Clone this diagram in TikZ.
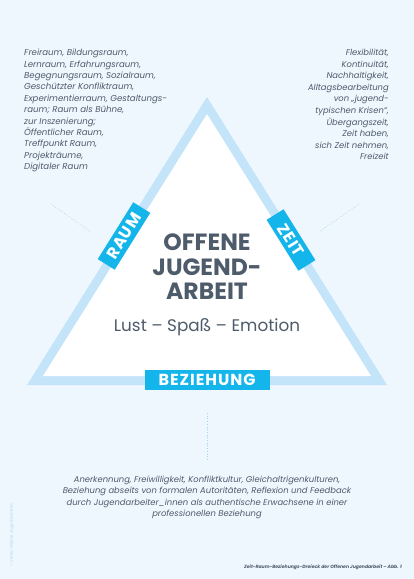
\documentclass[tikz,border=0pt]{standalone}
\usepackage{fontspec}
\setmainfont{Poppins}
\usepackage{xcolor}
\usepackage{tikz}
\usetikzlibrary{positioning}

\definecolor{bgblue}{HTML}{EEF6FE}
\definecolor{bandblue}{HTML}{C4E4F9}
\definecolor{tagblue}{HTML}{13B5EA}
\definecolor{inkgray}{HTML}{4D5B6A}
\definecolor{dotblue}{HTML}{9DD7F2}
\definecolor{markblue}{HTML}{A9DAF2}

\begin{document}
\begin{tikzpicture}[x=1pt,y=-1pt,every node/.style={text=inkgray}]
  \tikzstyle{tag}=[fill=tagblue,text=white,font=\bfseries\fontsize{16}{16}\selectfont\addfontfeatures{LetterSpace=6},minimum height=20pt,inner sep=0pt]
  \tikzstyle{list}=[font=\itshape\fontsize{8.6}{11.4}\selectfont,inner sep=0pt]
  \tikzstyle{pointer}=[dotblue,dotted,line width=0.7pt]

  \fill[bgblue] (0,0) rectangle (414,579);
  \useasboundingbox (0,0) rectangle (414,579);

  \coordinate (outerL) at (27,385);
  \coordinate (outerR) at (387,385);
  \coordinate (outerT) at (207,97);
  \coordinate (innerL) at (43,376);
  \coordinate (innerR) at (371,376);
  \coordinate (innerT) at (207,114);
  \fill[bandblue] (outerL) -- (outerR) -- (outerT) -- cycle;
  \fill[white] (innerL) -- (innerR) -- (innerT) -- cycle;

  \node[tag,rotate=58,minimum width=67pt] (raum) at (124,236) {RAUM};
  \node[tag,rotate=-58,minimum width=60pt] (zeit) at (291,240) {ZEIT};
  \node[tag,minimum width=125pt] (beziehung) at (207,380) {BEZIEHUNG};

  \node[font=\bfseries\fontsize{23.5}{24.5}\selectfont,align=center] (title) at (207,267) {OFFENE\\JUGEND-\\ARBEIT};
  \node[font=\fontsize{16.8}{16.8}\selectfont] (motto) at (207,327) {Lust – Spaß – Emotion};

  \node[list,align=left,anchor=north west] (raumtext) at (24,49) {Freiraum, Bildungsraum,\\Lernraum, Erfahrungsraum,\\Begegnungsraum, Sozialraum,\\Geschützter Konfliktraum,\\Experimentierraum, Gestaltungs-\\raum; Raum als Bühne,\\zur Inszenierung;\\Öffentlicher Raum,\\Treffpunkt Raum,\\Projekträume,\\Digitaler Raum};
  \node[list,font=\itshape\fontsize{8.4}{11.6}\selectfont,align=right,anchor=north east] (zeittext) at (389,49) {Flexibilität,\\Kontinuität,\\Nachhaltigkeit,\\Alltagsbearbeitung\\von „jugend-\\typischen Krisen“,\\Übergangszeit,\\Zeit haben,\\sich Zeit nehmen,\\Freizeit};
  \node[list,font=\itshape\fontsize{8.4}{11.3}\selectfont,align=center,anchor=north] (beziehungtext) at (207,476) {Anerkennung, Freiwilligkeit, Konfliktkultur, Gleichaltrigenkulturen,\\Beziehung abseits von formalen Autoritäten, Reflexion und Feedback\\durch Jugendarbeiter\_innen als authentische Erwachsene in einer\\professionellen Beziehung};

  \coordinate (raumdotA) at (51,204);
  \coordinate (raumdotB) at (91,232);
  \coordinate (zeitdotA) at (359,204);
  \coordinate (zeitdotB) at (319,232);
  \coordinate (bezdotA) at (207,413);
  \coordinate (bezdotB) at (207,461);
  \draw[pointer] (raumdotA) -- (raumdotB);
  \draw[pointer] (zeitdotA) -- (zeitdotB);
  \draw[pointer] (bezdotA) -- (bezdotB);

  \node[font=\bfseries\itshape\fontsize{4.6}{5}\selectfont,anchor=base east,inner sep=0pt] (caption) at (402,568) {Zeit-Raum-Beziehungs-Dreieck der Offenen Jugendarbeit – Abb. 1};
  \node[text=markblue,font=\fontsize{4}{4}\selectfont,rotate=90,inner sep=0pt] (copyright) at (12,535) {© Verein Wiener Jugendzentren};
\end{tikzpicture}
\end{document}
